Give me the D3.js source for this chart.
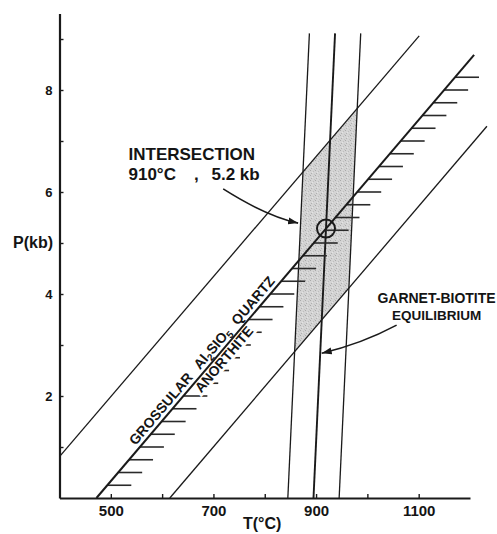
<!DOCTYPE html>
<html><head><meta charset="utf-8">
<script src="https://cdn.jsdelivr.net/npm/d3@7"></script>
<style>
body{margin:0;background:#fff}
text{font-family:"Liberation Sans",Arial,Helvetica,sans-serif;font-weight:bold;fill:#141414}
</style>
</head><body>
<svg id="chart" width="497" height="534"></svg>
<script>
// ---------------- data (T in °C, P in kb) ----------------
const xTicks = [500, 600, 700, 800, 900, 1000, 1100];
const xTickLabels = [500, 700, 900, 1100];
const yTicks = [1, 2, 3, 4, 5, 6, 7, 8, 9];
const yTickLabels = [2, 4, 6, 8];
// GASP reaction (grossular + Al2SiO5 + quartz = anorthite) and its error bounds
const reactionLine = [[472, 0], [1208, 8.69]];
const upperBound   = [[400, 0.81], [1101, 9.06]];
const lowerBound   = [[615, 0], [1233, 7.29]];
// garnet-biotite thermometer and its error bounds
const gbLeft  = [[845, 0], [887, 9.11]];
const gbMid   = [[895, 0], [937, 9.11]];
const gbRight = [[945, 0], [987, 9.11]];
// hatch marks on the reaction line (pressures)
const hatchP = [0.25,0.5,0.75,1,1.25,1.5,1.75,2,2.25,2.5,2.75,3,3.25,3.5,3.75,4,
                4.25,4.5,4.75,5,5.25,5.5,5.75,6,6.25,6.5,6.75,7,7.25,7.5,7.75,8,8.25];
// annotation arrows [start, control, tip] in (T,P)
const arrowIntersection = [[719, 6.06], [802, 5.53], [865, 5.39]];
const arrowGB = [[1057, 3.39], [988, 3.02], [911, 2.84]];
const intersectionText = ["INTERSECTION", "910°C", ",", "5.2 kb"];
const gbText = ["GARNET-BIOTITE", "EQUILIBRIUM"];

// ---------------- scales ----------------
const svg = d3.select("#chart");
const x = d3.scaleLinear().domain([400, 1200]).range([59.5, 470]);
const y = d3.scaleLinear().domain([0, 9.5]).range([498, 13.5]);
const ink = "#1a1a1a";

// helpers
function lerpT(line, p) { // T on a line at pressure p
  const [[t0, p0], [t1, p1]] = line;
  return t0 + (p - p0) * (t1 - t0) / (p1 - p0);
}
function intersect(a, b) {
  const [[x1, y1], [x2, y2]] = a, [[x3, y3], [x4, y4]] = b;
  const d = (x1 - x2) * (y3 - y4) - (y1 - y2) * (x3 - x4);
  const t = ((x1 - x3) * (y3 - y4) - (y1 - y3) * (x3 - x4)) / d;
  return [x1 + t * (x2 - x1), y1 + t * (y2 - y1)];
}
const lineGen = d3.line().x(d => x(d[0])).y(d => y(d[1]));

// ---------------- defs ----------------
const defs = svg.append("defs");
const pat = defs.append("pattern").attr("id", "stip").attr("patternUnits", "userSpaceOnUse")
  .attr("width", 5).attr("height", 5);
pat.append("rect").attr("width", 5).attr("height", 5).attr("fill", "#d4d4d4");
[[0,0,"#a9a9a9"],[3,1,"#bdbdbd"],[1,3,"#b0b0b0"],[4,4,"#c2c2c2"],[2,2,"#e4e4e4"]].forEach(([a,b,c]) =>
  pat.append("rect").attr("x", a).attr("y", b).attr("width", 1).attr("height", 1).attr("fill", c));
defs.append("marker").attr("id", "ah").attr("viewBox", "0 -4 10 8")
  .attr("markerUnits", "userSpaceOnUse").attr("markerWidth", 10).attr("markerHeight", 8)
  .attr("refX", 10).attr("refY", 0).attr("orient", "auto")
  .append("path").attr("d", "M0,-3.5L10,0L0,3.5Z").attr("fill", ink);

// ---------------- shaded overlap region ----------------
const poly = [intersect(gbLeft, upperBound), intersect(gbRight, upperBound),
              intersect(gbRight, lowerBound), intersect(gbLeft, lowerBound)];
svg.append("path").attr("d", lineGen(poly) + "Z").attr("fill", "url(#stip)");

// ---------------- axes ----------------
const xAxis = d3.axisBottom(x).tickValues(xTicks).tickSize(-4).tickSizeOuter(0).tickPadding(7)
  .tickFormat(d => xTickLabels.includes(d) ? d : "");
const gx = svg.append("g").attr("transform", `translate(0,${y(0)})`).call(xAxis);
gx.selectAll("text").style("font-size", "15px").attr("fill", "#141414");
const yAxis = d3.axisLeft(y).tickValues(yTicks).tickSize(-4).tickSizeOuter(0).tickPadding(7)
  .tickFormat(d => yTickLabels.includes(d) ? d : "");
const gy = svg.append("g").attr("transform", `translate(${x(400)},0)`).call(yAxis);
gy.selectAll("text").style("font-size", "13px").attr("fill", "#141414");
[gx, gy].forEach(g => {
  g.select(".domain").attr("stroke", ink).attr("stroke-width", 2.2);
  g.selectAll(".tick line").attr("stroke", ink).attr("stroke-width", 1.4);
  g.attr("font-family", null).attr("font-size", null);
});
svg.append("text").attr("x", 53).attr("y", y(5) + 5).attr("text-anchor", "end")
  .style("font-size", "16px").text("P(kb)");
svg.append("text").attr("x", 243).attr("y", 529).style("font-size", "16px").text("T(°C)");

// ---------------- lines ----------------
[[gbLeft, 1.3], [gbRight, 1.3], [gbMid, 1.9], [upperBound, 1.3], [lowerBound, 1.3]].forEach(([l, w]) =>
  svg.append("path").attr("d", lineGen(l)).attr("fill", "none").attr("stroke", ink).attr("stroke-width", w));

// hatch marks
svg.append("g").selectAll("line").data(hatchP).join("line")
  .attr("x1", p => x(lerpT(reactionLine, p))).attr("x2", p => x(lerpT(reactionLine, p)) + 24)
  .attr("y1", p => y(p)).attr("y2", p => y(p))
  .attr("stroke", "#2a2a2a").attr("stroke-width", 1.6);

// reaction labels rotated along the line
const ang = Math.atan2(y(reactionLine[1][1]) - y(reactionLine[0][1]),
                       x(reactionLine[1][0]) - x(reactionLine[0][0])) * 180 / Math.PI;
function along(p) { return [x(lerpT(reactionLine, p)), y(p)]; }
const g1 = along(0.97);
const t1 = svg.append("text").attr("transform", `translate(${g1[0]},${g1[1]}) rotate(${ang})`)
  .attr("y", -4).style("font-size", "14px");
t1.append("tspan").text("GROSSULAR");
t1.append("tspan").attr("dx", 10).text("Al");
t1.append("tspan").attr("dy", 3).style("font-size", "10px").text("2");
t1.append("tspan").attr("dy", -3).text("SIO");
t1.append("tspan").attr("dy", 3).style("font-size", "10px").text("5");
t1.append("tspan").attr("dy", -3).attr("dx", 9).text("QUARTZ");
const g2 = along(2.2);
svg.append("text").attr("transform", `translate(${g2[0]},${g2[1]}) rotate(${ang})`)
  .attr("y", 12).style("font-size", "14px")
  .attr("stroke", "#fff").attr("stroke-width", 5).attr("paint-order", "stroke")
  .text("ANORTHITE");

// reaction line (drawn over the label halos)
svg.append("path").attr("d", lineGen(reactionLine)).attr("fill", "none").attr("stroke", ink).attr("stroke-width", 2);

// intersection circle
const ip = intersect(reactionLine, gbMid);
svg.append("circle").attr("cx", x(ip[0])).attr("cy", y(ip[1])).attr("r", 9)
  .attr("fill", "none").attr("stroke", ink).attr("stroke-width", 2);

// arrows
[arrowIntersection, arrowGB].forEach(a => {
  const [s, c, e] = a.map(d => [x(d[0]), y(d[1])]);
  svg.append("path").attr("d", `M${s}Q${c} ${e}`).attr("fill", "none")
    .attr("stroke", ink).attr("stroke-width", 1.6).attr("marker-end", "url(#ah)");
});

// annotation texts
svg.append("text").attr("x", 128.5).attr("y", 159.5).style("font-size", "17px").text(intersectionText[0]);
const it = svg.append("text").attr("y", 179.5).style("font-size", "17px");
it.append("tspan").attr("x", 128.5).text(intersectionText[1]);
it.append("tspan").attr("x", 194).text(intersectionText[2]);
it.append("tspan").attr("x", 211.5).text(intersectionText[3]);
svg.append("text").attr("x", 436.5).attr("y", 302.5).attr("text-anchor", "middle")
  .style("font-size", "14px").text(gbText[0]);
svg.append("text").attr("x", 436.5).attr("y", 319.5).attr("text-anchor", "middle")
  .style("font-size", "13.5px").text(gbText[1]);
</script>
</body></html>
